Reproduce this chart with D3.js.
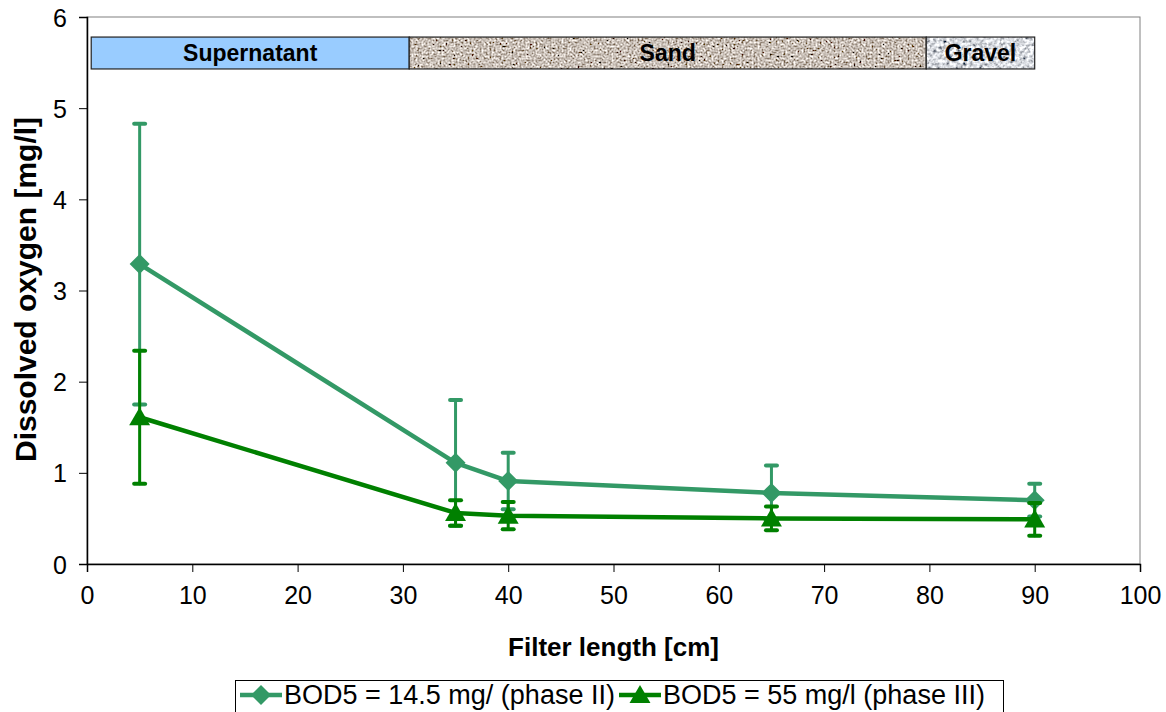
<!DOCTYPE html>
<html>
<head>
<meta charset="utf-8">
<script src="https://cdn.jsdelivr.net/npm/d3@7"></script>
<style>
  body { margin: 0; background: #fff; }
  text { font-family: "Liberation Sans", Arial, sans-serif; }
</style>
</head>
<body>
<script>
// chart data
const filterLength = [5, 35, 40, 65, 90];
const oxygenPhase2 = [3.29, 1.11, 0.91, 0.78, 0.70];
const errorPhase2 = [1.54, 0.69, 0.31, 0.30, 0.18];
const oxygenPhase3 = [1.61, 0.56, 0.53, 0.50, 0.49];
const errorPhase3 = [0.73, 0.14, 0.15, 0.13, 0.18];
const seriesNames = ['BOD5 = 14.5 mg/ (phase II)', 'BOD5 = 55 mg/l (phase III)'];
const zoneNames = ['Supernatant', 'Sand', 'Gravel'];
const zoneStart = [0.4, 30.6, 79.7];
const zoneEnd = [30.6, 79.7, 90];
const xTicks = [0, 10, 20, 30, 40, 50, 60, 70, 80, 90, 100];
const yTicks = [0, 1, 2, 3, 4, 5, 6];

const width = 1166, height = 712;
const svg = d3.select('body').append('svg')
    .attr('width', width)
    .attr('height', height);

const x = d3.scaleLinear().domain([0, 100]).range([87, 1140]);
const y = d3.scaleLinear().domain([0, 6]).range([564, 17]);

// textures for the filter layers
const defs = svg.append('defs');
function noiseFilter(id, freq, seed, slope, r, g, b) {
    const f = defs.append('filter').attr('id', id)
        .attr('x', 0).attr('y', 0).attr('width', 1).attr('height', 1);
    f.append('feTurbulence').attr('type', 'fractalNoise')
        .attr('baseFrequency', freq).attr('numOctaves', 2).attr('seed', seed).attr('result', 'noise');
    f.append('feColorMatrix').attr('type', 'matrix')
        .attr('values', '0.33 0.33 0.33 0 0  0.33 0.33 0.33 0 0  0.33 0.33 0.33 0 0  0 0 0 0 1');
    const ct = f.append('feComponentTransfer');
    ct.append('feFuncR').attr('type', 'linear').attr('slope', slope).attr('intercept', r - slope * 0.5);
    ct.append('feFuncG').attr('type', 'linear').attr('slope', slope).attr('intercept', g - slope * 0.5);
    ct.append('feFuncB').attr('type', 'linear').attr('slope', slope).attr('intercept', b - slope * 0.5);
    f.append('feComposite').attr('in2', 'SourceGraphic').attr('operator', 'in');
}
noiseFilter('sand', 0.5, 3, 3.0, 0.60, 0.54, 0.49);
noiseFilter('gravel', 0.3, 7, 3.0, 0.70, 0.72, 0.76);

// plot frame
svg.append('rect')
    .attr('x', x(0)).attr('y', y(6))
    .attr('width', x(100) - x(0)).attr('height', y(0) - y(6))
    .attr('fill', 'none').attr('stroke', '#808080').attr('stroke-width', 1);

// axes
const xAxis = svg.append('g')
    .attr('transform', `translate(0,${y(0)})`)
    .call(d3.axisBottom(x).tickValues(xTicks).tickSize(8).tickPadding(14));
const yAxis = svg.append('g')
    .attr('transform', `translate(${x(0)},0)`)
    .call(d3.axisLeft(y).tickValues(yTicks).tickFormat(d3.format('d')).tickSize(8).tickPadding(12));
[xAxis, yAxis].forEach(a => {
    a.select('.domain').attr('stroke', '#000').attr('stroke-width', 1.5);
    a.selectAll('.tick line').attr('stroke', '#000');
    a.selectAll('.tick text').attr('font-size', 25)
        .attr('font-family', '"Liberation Sans", Arial, sans-serif').attr('fill', '#000');
});
yAxis.selectAll('.tick text').attr('dy', '0.36em');

// axis titles
svg.append('text')
    .attr('x', (x(0) + x(100)) / 2).attr('y', 656)
    .attr('text-anchor', 'middle')
    .attr('font-size', 26).attr('font-weight', 'bold')
    .text('Filter length [cm]');
svg.append('text')
    .attr('transform', `translate(36,${(y(0) + y(6)) / 2 - 1}) rotate(-90)`)
    .attr('text-anchor', 'middle')
    .attr('font-size', 30).attr('font-weight', 'bold')
    .text('Dissolved oxygen [mg/l]');

// zone bars at the top
const zoneFill = ['#99ccff', null, null];
const zoneFilter = [null, 'url(#sand)', 'url(#gravel)'];
zoneNames.forEach((name, i) => {
    const g = svg.append('g');
    const rx = x(zoneStart[i]), rw = x(zoneEnd[i]) - x(zoneStart[i]);
    const ry = y(5.78), rh = y(5.43) - y(5.78);
    if (zoneFilter[i]) {
        g.append('rect').attr('x', rx).attr('y', ry).attr('width', rw).attr('height', rh)
            .attr('fill', '#fff').attr('filter', zoneFilter[i]);
    } else {
        g.append('rect').attr('x', rx).attr('y', ry).attr('width', rw).attr('height', rh)
            .attr('fill', zoneFill[i]);
    }
    g.append('rect').attr('x', rx).attr('y', ry).attr('width', rw).attr('height', rh)
        .attr('fill', 'none').attr('stroke', '#222').attr('stroke-width', 1.2);
    g.append('text')
        .attr('x', rx + rw / 2).attr('y', ry + rh / 2 + 8)
        .attr('text-anchor', 'middle')
        .attr('font-size', 23).attr('font-weight', 'bold')
        .text(name);
});

// series
const series = [
    { values: oxygenPhase2, errors: errorPhase2, color: '#339966', shape: d3.symbolSquare, size: 200, rot: 45, dy: 0 },
    { values: oxygenPhase3, errors: errorPhase3, color: '#008000', shape: d3.symbolTriangle, size: 190, rot: 0, dy: 2 }
];
const line = d3.line().x(d => x(d[0])).y(d => y(d[1]));

series.forEach(s => {
    const pts = filterLength.map((v, i) => [v, s.values[i], s.errors[i]]);
    const g = svg.append('g');
    // error bars
    const eb = g.append('g').attr('stroke', s.color).attr('stroke-width', 3).attr('stroke-linecap', 'round');
    pts.forEach(p => {
        eb.append('line').attr('x1', x(p[0])).attr('x2', x(p[0]))
            .attr('y1', y(p[1] + p[2])).attr('y2', y(p[1] - p[2]));
        [p[1] + p[2], p[1] - p[2]].forEach(v => {
            eb.append('line').attr('x1', x(p[0]) - 5.5).attr('x2', x(p[0]) + 5.5)
                .attr('y1', y(v)).attr('y2', y(v)).attr('stroke-width', 4);
        });
    });
    g.append('path').datum(pts)
        .attr('d', line)
        .attr('fill', 'none').attr('stroke', s.color).attr('stroke-width', 4.5)
        .attr('stroke-linejoin', 'round');
    g.selectAll('.marker').data(pts).enter().append('path')
        .attr('transform', d => `translate(${x(d[0])},${y(d[1]) + s.dy}) rotate(${s.rot})`)
        .attr('d', d3.symbol().type(s.shape).size(s.size))
        .attr('fill', s.color);
});

// legend
const legend = svg.append('g');
legend.append('rect')
    .attr('x', 235.5).attr('y', 680.5).attr('width', 768).attr('height', 40)
    .attr('fill', '#fff').attr('stroke', '#000').attr('stroke-width', 1);
const legendX = [240, 619];
series.forEach((s, i) => {
    const lx = legendX[i];
    legend.append('line')
        .attr('x1', lx).attr('x2', lx + 42).attr('y1', 695).attr('y2', 695)
        .attr('stroke', s.color).attr('stroke-width', 4.5);
    legend.append('path')
        .attr('transform', `translate(${lx + 21},${695 + s.dy}) rotate(${s.rot})`)
        .attr('d', d3.symbol().type(s.shape).size(s.size))
        .attr('fill', s.color);
    legend.append('text')
        .attr('x', lx + 44).attr('y', 704)
        .attr('font-size', 27)
        .text(seriesNames[i]);
});
</script>
</body>
</html>
